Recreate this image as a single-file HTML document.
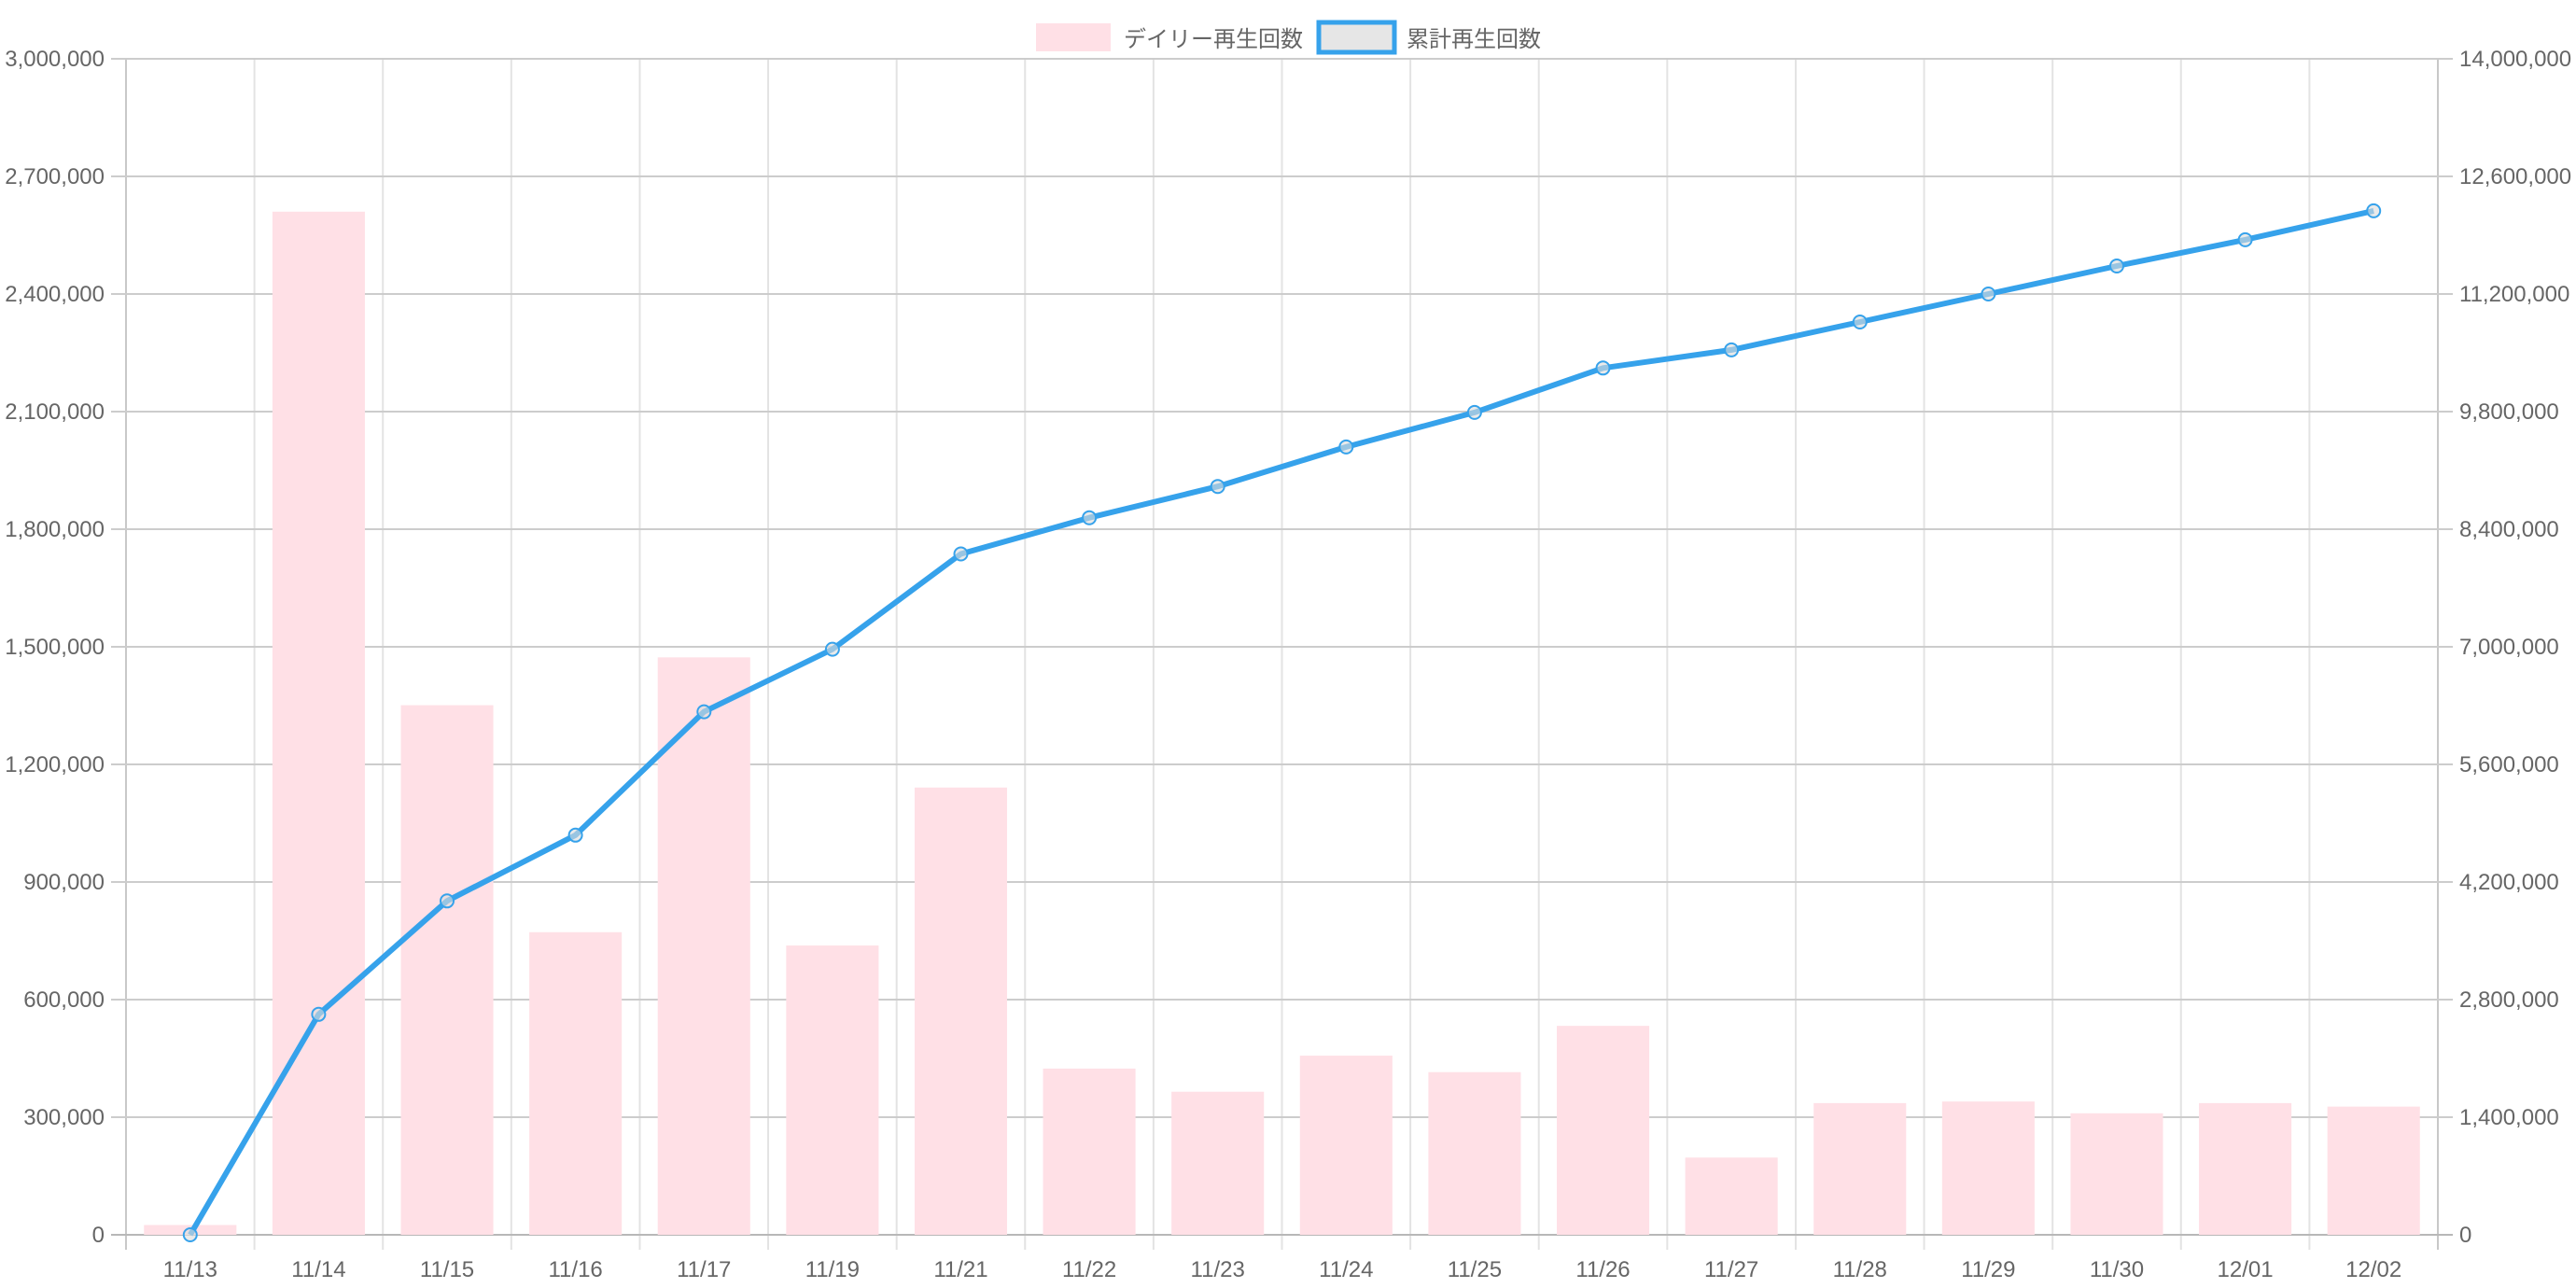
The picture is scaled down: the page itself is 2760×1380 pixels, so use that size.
<!DOCTYPE html>
<html><head><meta charset="utf-8"><style>
html,body{margin:0;padding:0;background:#fff;width:2760px;height:1380px;overflow:hidden}
text{font-family:"Liberation Sans","Noto Sans CJK JP",sans-serif;fill:#666}
</style></head><body>
<svg id="c" width="2760" height="1380" xmlns="http://www.w3.org/2000/svg">
<rect x="1110" y="25" width="80" height="30" fill="#ffe0e6"/>
<text x="1204" y="50" font-size="24">デイリー再生回数</text>
<rect x="1413" y="24" width="81" height="32" fill="#e6e6e6" stroke="#36a2eb" stroke-width="5"/>
<text x="1507" y="50" font-size="24">累計再生回数</text>
</svg>
<script>
var s=document.getElementById('c'),ns="http://www.w3.org/2000/svg";
function el(t,a,txt){var e=document.createElementNS(ns,t);for(var k in a)e.setAttribute(k,a[k]);if(txt!=null)e.textContent=txt;s.appendChild(e);return e;}
var L=135,R=2612,T=63,B=1323,n=18,cw=(R-L)/n;
var labels=["11/13","11/14","11/15","11/16","11/17","11/19","11/21","11/22","11/23","11/24","11/25","11/26","11/27","11/28","11/29","11/30","12/01","12/02"];
var bars=[25,2610,1351,772,1473,738,1141,424,365,457,415,533,197,336,340,310,336,327];
var line=[0,2624,3975,4758,6227,6971,8106,8537,8909,9379,9790,10319,10534,10867,11200,11533,11846,12190];
for(var i=0;i<=n;i++){var x=L+i*cw;el('line',{x1:x,x2:x,y1:T,y2:B+16,stroke:(i==0||i==n)?'#c8c8c8':'#e3e3e3','stroke-width':2});}
for(var j=0;j<=10;j++){var y=B-j*(B-T)/10;
el('line',{x1:L-16,x2:R+16,y1:y,y2:y,stroke:j==0?'#b8b8b8':'#cccccc','stroke-width':2});
el('text',{x:112,y:y+8,'font-size':24,'text-anchor':'end'},(j*300000).toLocaleString('en-US'));
el('text',{x:2635,y:y+8,'font-size':24},(j*1400000).toLocaleString('en-US'));}
for(var i=0;i<n;i++){var h=bars[i]*1000/3000000*(B-T);var bw=cw*0.72;
el('rect',{x:L+i*cw+(cw-bw)/2,y:B-h,width:bw,height:h,fill:'#ffe0e6'});
el('text',{x:L+(i+0.5)*cw,y:1368,'font-size':24,'text-anchor':'middle'},labels[i]);}
var pts=[];for(var i=0;i<n;i++){pts.push((L+(i+0.5)*cw).toFixed(1)+','+(B-line[i]*1000/14000000*(B-T)).toFixed(1));}
el('polyline',{points:pts.join(' '),fill:'none',stroke:'#36a2eb','stroke-width':6,'stroke-linejoin':'round'});
pts.forEach(function(p){var a=p.split(',');el('circle',{cx:a[0],cy:a[1],r:7,fill:'rgba(220,220,220,0.6)',stroke:'#36a2eb','stroke-width':2});});
</script>
</body></html>
